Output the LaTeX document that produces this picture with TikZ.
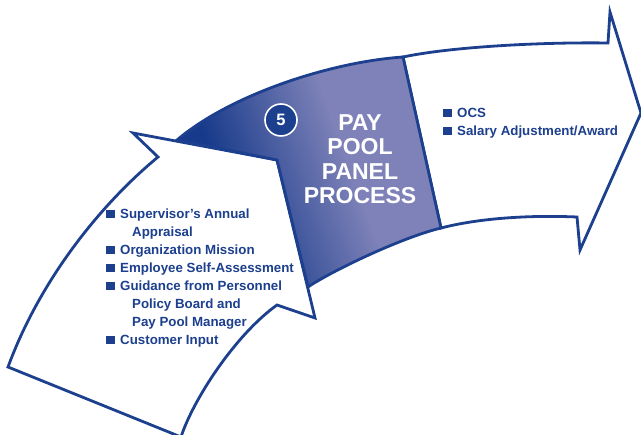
\documentclass[tikz,border=0pt]{standalone}
\usepackage{fontspec}
\setmainfont{Liberation Sans}
\usetikzlibrary{positioning}

\definecolor{pblue}{HTML}{1C3F8E}
\definecolor{pdark}{HTML}{173A8A}
\definecolor{plight}{HTML}{7E82B8}

\pgfdeclarehorizontalshading{poolshade}{100bp}{color(0bp)=(pdark); color(33bp)=(pdark); color(58bp)=(plight); color(100bp)=(plight)}

\tikzset{
  stage/.style={draw=pblue, line width=2.8pt, fill=white},
  items/.style={text=pblue, font=\bfseries\fontsize{13.3}{18}\selectfont, align=left, inner sep=0pt, anchor=base west},
  title/.style={text=white, font=\bfseries\fontsize{23}{24.5}\selectfont, align=center, inner sep=0pt, anchor=base},
  stepnum/.style={circle, fill=pblue, draw=white, line width=1.6pt, minimum size=32pt, inner sep=0pt, text=white, font=\bfseries\fontsize{16.5}{16.5}\selectfont}
}
\newcommand{\sqb}{\textcolor{pblue}{\rule{8.5pt}{8.5pt}}\hspace{5.5pt}}

\begin{document}
\begin{tikzpicture}[x=1pt,y=-1pt]
\useasboundingbox (0,0) rectangle (641,435);

% outgoing arrow
\draw[stage] (403,57) .. controls (450,47) and (540,42) .. (608,43) -- (610,12) -- (641,113) -- (580,250) -- (577,217) .. controls (530,215) and (480,218) .. (441,228) -- cycle;

% incoming arrow
\draw[stage] (181,437) .. controls (193,400) and (235,335) .. (277,305) -- (315,318) -- (277,160) -- (133,133) -- (158,157) .. controls (100,205) and (40,280) .. (8,367) -- cycle;

% panel
\shadedraw[shading=poolshade, shading angle=20, draw=pblue, line width=2.8pt] (177,140) -- (277,160) -- (308,287) .. controls (330,272) and (400,238) .. (441,228) -- (403,57) .. controls (330,62) and (230,95) .. (177,140) -- cycle;

\node[stepnum] (num) at (281,120) {5};
% base anchor sits on the last line
\node[title] (title) at (360,204) {PAY\\POOL\\PANEL\\PROCESS};

\node[items] (inputs) at (106,344.5) {\sqb Supervisor’s Annual\\
  \hspace*{26pt}Appraisal\\
  \sqb Organization Mission\\
  \sqb Employee Self-Assessment\\
  \sqb Guidance from Personnel\\
  \hspace*{26pt}Policy Board and\\
  \hspace*{26pt}Pay Pool Manager\\
  \sqb Customer Input};

\node[items] (outputs) at (443,135.5) {\sqb OCS\\
  \sqb Salary Adjustment/Award};
\end{tikzpicture}
\end{document}
